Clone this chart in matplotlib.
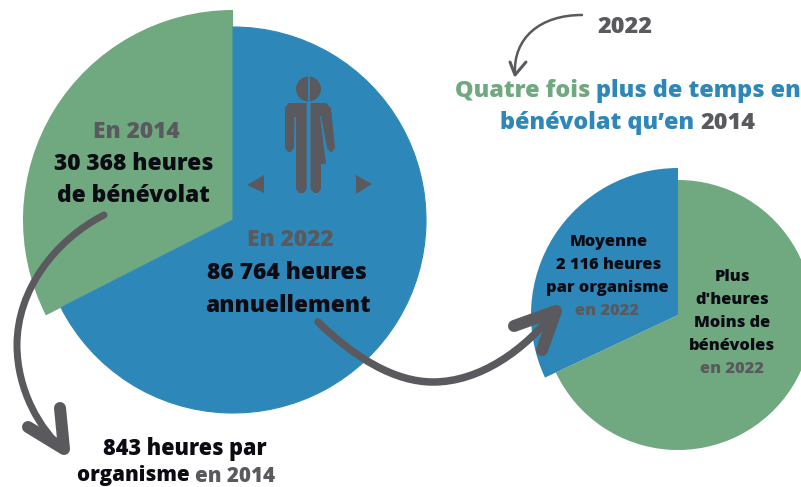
import matplotlib
matplotlib.use('Agg')
import matplotlib.pyplot as plt
from matplotlib.patches import Circle, Polygon, PathPatch
from matplotlib.path import Path

# parts of each pie, in percent
big_shares = [32.5, 67.5]      # 2014, 2022
small_shares = [32.0, 68.0]    # par organisme, reste

BLUE = '#2e87b9'
GREEN = '#70a97f'
GRAY = '#5a5a5e'
DARK = '#0b0b14'

W, H = 801, 487
FONT = 'Open Sans'

fig = plt.figure(figsize=(W / 100, H / 100), dpi=100)
ax = fig.add_axes([0, 0, 1, 1])


def Y(y):
    # picture rows run downwards
    return H - y


# big pie
ax.pie(big_shares, colors=[GREEN, 'none'], radius=210, center=(233, Y(220)),
       startangle=90, frame=True)
wedges = ax.pie(big_shares, colors=['none', BLUE], radius=193, center=(233, Y(220)),
                startangle=90, frame=True)[0]
wedges[1].set_edgecolor(BLUE)
wedges[1].set_linewidth(0.8)

# small pie
ax.pie(small_shares, colors=['none', GREEN], radius=135, center=(678, Y(315)),
       startangle=90, frame=True)
ax.pie(small_shares, colors=[BLUE, 'none'], radius=147, center=(678, Y(315)),
       startangle=90, frame=True)

ax.set_xlim(0, W)
ax.set_ylim(0, H)
ax.set_aspect('auto')
ax.axis('off')


def poly(points, color=GRAY, z=4):
    ax.add_patch(Polygon([(x, Y(y)) for x, y in points], closed=True, fc=color, ec='none', zorder=z))


def stroke(points, width, codes=None, color=GRAY):
    pts = [(x, Y(y)) for x, y in points]
    if codes is None:
        codes = [Path.MOVETO] + [Path.LINETO] * (len(pts) - 1)
    ax.add_patch(PathPatch(Path(pts, codes), fc='none', ec=color, lw=width * 0.72,
                           capstyle='round', joinstyle='round', zorder=5))


# pictogram
ax.add_patch(Circle((308.5, Y(89)), 12.5, fc=GRAY, ec='none', zorder=4))
poly([(289, 103), (306.7, 103), (306.7, 189), (304, 193), (299, 193), (296, 189), (296, 117), (294.5, 117),
      (294, 148), (291, 152), (288, 152), (285, 148), (285, 107)])
poly([(310.5, 103), (326, 103), (331, 108), (335, 148), (332, 152), (330, 152), (327, 148), (321, 116),
      (320, 116), (326, 164), (321, 164), (321, 189), (318, 193), (314, 193), (310.5, 189)])
ax.plot([308.5, 308.5], [Y(72), Y(200)], color=BLUE, lw=1.3, zorder=4.5)
poly([(247, 185), (264, 175), (264, 193)])
poly([(372, 184), (356, 175), (356, 194)])

# arrows
C4 = [Path.MOVETO, Path.CURVE4, Path.CURVE4, Path.CURVE4, Path.CURVE4, Path.CURVE4, Path.CURVE4]
stroke([(104, 215), (55, 240), (17, 290), (17, 345), (17, 390), (40, 430), (64, 450)], 7, C4)
stroke([(60, 408), (64, 449), (28, 427)], 12)
stroke([(318, 322), (355, 358), (395, 382), (433, 382), (480, 382), (525, 350), (556, 310)], 7.5, C4)
stroke([(514, 326), (556, 311), (542, 350)], 12)
C4b = [Path.MOVETO, Path.CURVE4, Path.CURVE4, Path.CURVE4]
stroke([(582, 15), (540, 15), (513, 38), (515, 74)], 2.5, C4b)
stroke([(510, 62), (515, 75), (526, 62)], 3)


def line(cx, y, parts, size, weight=800):
    # one centred line made of runs with different colours
    r = fig.canvas.get_renderer()
    texts = [ax.text(0, Y(y + 2), s, color=c, fontsize=size, fontweight=weight, family=FONT,
                     ha='left', va='center', zorder=6) for s, c in parts]
    widths = [t.get_window_extent(r).width for t in texts]
    x = cx - sum(widths) / 2
    for t, w in zip(texts, widths):
        t.set_x(x)
        x += w


line(624.5, 25, [('2022', GRAY)], 16.8)
line(628, 89, [('Quatre fois ', GREEN), ('plus de temps en', BLUE)], 16.8)
line(628, 121, [('bénévolat qu’en ', BLUE), ('2014', GRAY)], 16.8)

line(136, 130, [('En 2014', GRAY)], 16.4)
line(134, 162, [('30 368 heures', DARK)], 16.4)
line(133, 194, [('de bénévolat', DARK)], 16.4)

line(290, 238, [('En 2022', GRAY)], 16.4)
line(287, 271, [('86 764 heures', DARK)], 16.4)
line(288, 304, [('annuellement', DARK)], 16.4)

line(185, 447, [('843 heures par', DARK)], 15.6)
line(176, 474, [('organisme ', DARK), ('en 2014', GRAY)], 14.8)

line(609, 240, [('Moyenne', DARK)], 11.8)
line(609, 263, [('2 116 heures', DARK)], 11.8)
line(607, 286, [('par organisme', DARK)], 11.8)
line(607, 309, [('en 2022', GRAY)], 11.8)

line(732, 275, [('Plus', DARK)], 11.8)
line(732, 298, [("d'heures", DARK)], 11.8)
line(732, 321, [('Moins de', DARK)], 11.8)
line(732, 344, [('bénévoles', DARK)], 11.8)
line(732, 367, [('en 2022', GRAY)], 11.8)

fig.savefig('out.png', dpi=100)
